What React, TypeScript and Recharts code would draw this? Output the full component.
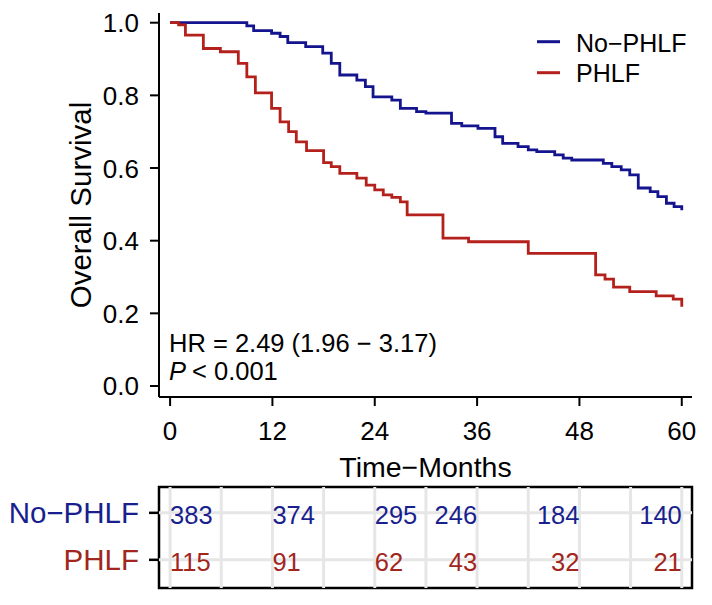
import React from 'react';
import {
  LineChart, Line, XAxis, YAxis, Legend, Label,
  ScatterChart, Scatter, ReferenceArea, ReferenceLine,
} from 'recharts';

// ---------- data ----------
const noPhlfTimes = [0, 9.0, 9.8, 11.9, 12.9, 13.8, 15.9, 17.9, 18.9, 19.9, 21.9, 22.9, 23.8, 26.0, 27.0, 28.9, 30.0, 33.0, 34.2, 36.1, 38.1, 39.0, 40.8, 42.0, 43.0, 45.1, 46.1, 47.1, 50.8, 51.8, 52.9, 53.9, 54.9, 56.3, 57.2, 58.2, 59.1, 60];
const noPhlfSurv = [1.0, 0.991, 0.978, 0.971, 0.962, 0.945, 0.934, 0.916, 0.888, 0.856, 0.842, 0.824, 0.796, 0.787, 0.764, 0.755, 0.751, 0.723, 0.716, 0.709, 0.686, 0.668, 0.659, 0.650, 0.645, 0.636, 0.627, 0.622, 0.613, 0.604, 0.595, 0.581, 0.545, 0.535, 0.521, 0.503, 0.494, 0.484];

const phlfTimes = [0, 1.0, 1.8, 3.9, 5.9, 8.0, 9.0, 10.0, 11.9, 12.9, 13.9, 14.8, 16.0, 18.0, 18.9, 19.9, 21.9, 23.0, 24.0, 25.0, 26.0, 27.0, 27.8, 32.0, 35.0, 42.0, 49.9, 51.0, 52.0, 53.9, 57.0, 59.0, 60];
const phlfSurv = [1.0, 0.994, 0.966, 0.929, 0.920, 0.888, 0.851, 0.807, 0.764, 0.727, 0.700, 0.672, 0.648, 0.615, 0.604, 0.585, 0.572, 0.553, 0.540, 0.526, 0.519, 0.507, 0.471, 0.407, 0.397, 0.365, 0.306, 0.294, 0.272, 0.260, 0.248, 0.239, 0.218];

const seriesNames = ['No\u2212PHLF', 'PHLF'];
const xTicks = [0, 12, 24, 36, 48, 60];
const yTicks = [0, 0.2, 0.4, 0.6, 0.8, 1.0];
const riskTimes = [0, 12, 24, 36, 48, 60];
const riskNoPhlf = [383, 374, 295, 246, 184, 140];
const riskPhlf = [115, 91, 62, 43, 32, 21];
const gridTimes = [0, 6, 12, 18, 24, 30, 36, 42, 48, 54, 60];
const hrText = 'HR = 2.49 (1.96 \u2212 3.17)';
const pText = '< 0.001';

// ---------- styles ----------
const BLUE = '#14148f';
const RED = '#b4211c';
const TBL_BLUE = '#1a1f8e';
const TBL_RED = '#a1261e';
const FONT = '"Liberation Sans", Arial, Helvetica, sans-serif';
const X_DOMAIN: [number, number] = [-1.3, 61.2];

const noPhlfData = noPhlfTimes.map((t, i) => ({ t, s: noPhlfSurv[i] }));
const phlfData = phlfTimes.map((t, i) => ({ t, s: phlfSurv[i] }));
const riskData = [
  ...riskTimes.map((t, i) => ({ t, row: 1, n: riskNoPhlf[i] })),
  ...riskTimes.map((t, i) => ({ t, row: 0, n: riskPhlf[i] })),
];

const renderLegend = (props: any) => {
  const items = props.payload || [];
  return (
    <svg width={180} height={75} style={{ display: 'block' }}>
      {items.map((it: any, i: number) => (
        <g key={i}>
          <line x1={7} x2={30} y1={21.7 + 31 * i} y2={21.7 + 31 * i} stroke={it.color} strokeWidth={3} />
          <text x={46} y={31.7 + 30 * i} fontSize={25} fontFamily={FONT} fill="#000">{it.value}</text>
        </g>
      ))}
    </svg>
  );
};

const XTick = (props: any) => {
  const { x, y, payload } = props;
  return (
    <text x={x} y={y + 32} textAnchor="middle" fontSize={26} fontFamily={FONT} fill="#000">
      {payload.value}
    </text>
  );
};

const YTick = (props: any) => {
  const { x, y, payload } = props;
  return (
    <text x={x - 9} y={y + 9.5} textAnchor="end" fontSize={26} fontFamily={FONT} fill="#000">
      {Number(payload.value).toFixed(1)}
    </text>
  );
};

const RowTick = (props: any) => {
  const { x, y, payload } = props;
  const isTop = payload.value === 1;
  return (
    <text x={x - 8} y={y + 10.5} textAnchor="end" fontSize={29.5} fontFamily={FONT} fill={isTop ? TBL_BLUE : TBL_RED}>
      {isTop ? seriesNames[0] : seriesNames[1]}
    </text>
  );
};

const RiskCell = (props: any) => {
  const { cx, cy, payload } = props;
  const anchor = payload.t <= 24 ? 'start' : 'end';
  return (
    <text x={cx} y={cy + 11} textAnchor={anchor} fontSize={25.5} fontFamily={FONT} fill={payload.row === 1 ? TBL_BLUE : TBL_RED}>
      {payload.n}
    </text>
  );
};

export default function App() {
  return (
    <div style={{ position: 'absolute', left: 0, top: 0, width: 712, height: 605, background: '#fff', fontFamily: FONT }}>
      <div style={{ position: 'absolute', left: 0, top: 0 }}>
        <LineChart width={712} height={490} margin={{ top: 13, right: 20, left: 0, bottom: 0 }}>
          <XAxis
            type="number"
            dataKey="t"
            domain={X_DOMAIN}
            ticks={xTicks}
            allowDataOverflow
            height={93}
            axisLine={{ stroke: '#000', strokeWidth: 2 }}
            tickLine={{ stroke: '#000', strokeWidth: 2 }}
            tickSize={9}
            tick={<XTick />}
          >
            <Label
              content={(p: any) => {
                const vb = p.viewBox || {};
                return (
                  <text x={vb.x + vb.width / 2} y={477} textAnchor="middle" fontSize={28.5} fontFamily={FONT} fill="#000">
                    {'Time\u2212Months'}
                  </text>
                );
              }}
            />
          </XAxis>
          <YAxis
            type="number"
            domain={[-0.0303, 1.0267]}
            ticks={yTicks}
            allowDataOverflow
            width={159}
            axisLine={{ stroke: '#000', strokeWidth: 2 }}
            tickLine={{ stroke: '#000', strokeWidth: 2 }}
            tickSize={9}
            tick={<YTick />}
          >
            <Label
              content={(p: any) => {
                const vb = p.viewBox || {};
                const cy = vb.y + vb.height / 2;
                return (
                  <text x={91} y={cy} transform={`rotate(-90, 91, ${cy})`} textAnchor="middle" fontSize={29.5} fontFamily={FONT} fill="#000">
                    Overall Survival
                  </text>
                );
              }}
            />
          </YAxis>
          <Legend
            layout="vertical"
            align="center"
            verticalAlign="middle"
            content={renderLegend}
            wrapperStyle={{ left: 530, top: 20, width: 180, height: 75 }}
          />
          <Line data={noPhlfData} dataKey="s" name={seriesNames[0]} type="stepAfter" stroke={BLUE} strokeWidth={2.8} dot={false} isAnimationActive={false} />
          <Line data={phlfData} dataKey="s" name={seriesNames[1]} type="stepAfter" stroke={RED} strokeWidth={2.8} dot={false} isAnimationActive={false} />
        </LineChart>
      </div>

      <svg width={712} height={400} style={{ position: 'absolute', left: 0, top: 0, pointerEvents: 'none' }}>
        <text x={169} y={352} fontSize={25.5} fontFamily={FONT} fill="#000">{hrText}</text>
        <text x={169} y={380} fontSize={25.5} fontFamily={FONT} fill="#000">
          <tspan fontStyle="italic">P</tspan>
          <tspan dx={6}>{pText}</tspan>
        </text>
      </svg>

      <div style={{ position: 'absolute', left: 0, top: 470 }}>
        <ScatterChart width={712} height={135} margin={{ top: 17, right: 20, left: 0, bottom: 17 }}>
          <XAxis type="number" dataKey="t" domain={X_DOMAIN} allowDataOverflow hide />
          <YAxis
            type="number"
            dataKey="row"
            domain={[-0.6, 1.55]}
            ticks={[0, 1]}
            allowDataOverflow
            width={159}
            axisLine={false}
            tickLine={{ stroke: '#000', strokeWidth: 2.5 }}
            tickSize={10}
            tick={<RowTick />}
          />
          {gridTimes.map((g) => (
            <ReferenceLine key={'v' + g} x={g} stroke="#e6e6e6" strokeWidth={3} />
          ))}
          <ReferenceLine y={1} stroke="#e6e6e6" strokeWidth={3} />
          <ReferenceLine y={0} stroke="#e6e6e6" strokeWidth={3} />
          <Scatter data={riskData} dataKey="row" shape={<RiskCell />} isAnimationActive={false} />
          <ReferenceArea x1={X_DOMAIN[0]} x2={X_DOMAIN[1]} y1={-0.6} y2={1.55} fill="none" fillOpacity={0} stroke="#000" strokeWidth={2.5} ifOverflow="visible" />
        </ScatterChart>
      </div>
    </div>
  );
}
